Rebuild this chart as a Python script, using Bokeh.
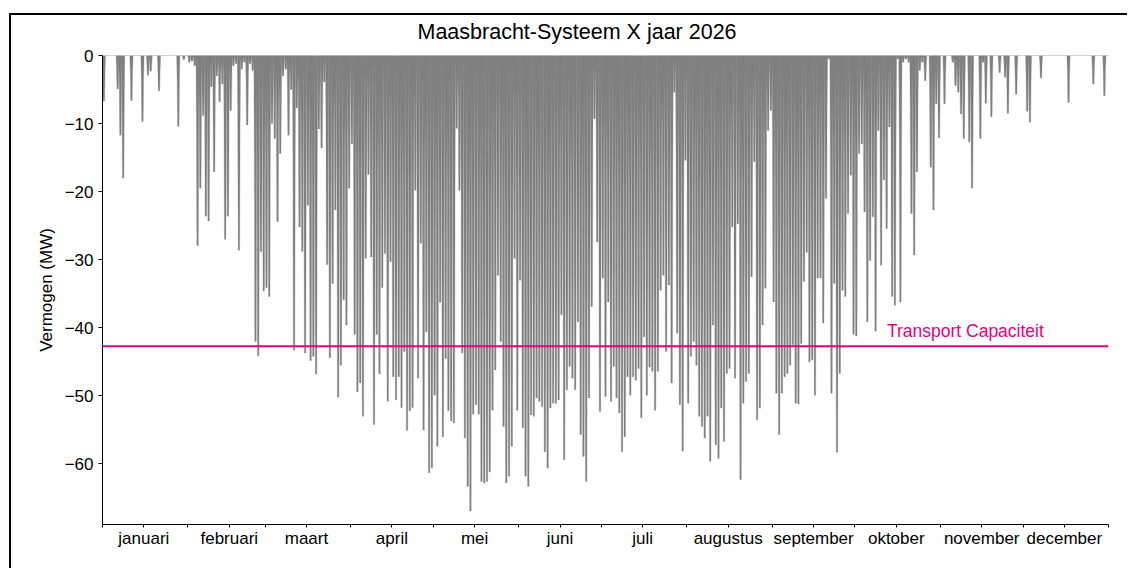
from bokeh.plotting import figure
from bokeh.models import FixedTicker, Span, Label, Range1d, Title
from bokeh.embed import file_html
from bokeh.resources import INLINE

# ---------------- data ----------------
title_text = "Maasbracht-Systeem X jaar 2026"
y_label = "Vermogen (MW)"
month_names = ["januari", "februari", "maart", "april", "mei", "juni", "juli",
               "augustus", "september", "oktober", "november", "december"]
month_lengths = [31, 28, 31, 30, 31, 30, 31, 31, 30, 31, 30, 31]

# daily peak feed-in (MW, negative = export), one value per day
jan = [-6.7, 0, 0, 0, 0, -4.9, -11.7, -18.0, 0, 0, -6.6, 0, 0, 0, -9.7, 0, -2.9, -2.3,
       0, 0, -5.2, 0, 0, 0, 0, 0, 0, -10.4, 0, -0.6, 0]
feb = [-1.0, -0.8, -1.5, -27.9, -19.5, -8.8, -23.6, -24.3, -4.6, -17.1, -3.0, -6.8, -4.2,
       -27.0, -23.6, -8.1, -1.5, -1.2, -28.6, -2.0, -1.0, -10.2, -1.2, -2.2, -42.0, -44.1,
       -28.8, -34.6]
mar = [-34.1, -35.4, -10.0, -12.2, -24.4, -14.4, -3.0, -2.0, -11.7, -5.0, -43.3, -7.7,
       -25.2, -28.8, -43.7, -22.0, -44.8, -44.2, -46.8, -10.8, -13.6, -3.9, -30.7, -44.4,
       -33.5, -22.7, -50.2, -45.5, -35.9, -39.6, -19.5]
apr = [-13.0, -41.0, -49.4, -48.1, -53.0, -29.8, -17.5, -29.6, -54.2, -41.0, -46.8, -34.1,
       -29.1, -50.8, -30.3, -47.2, -50.6, -47.2, -51.7, -43.5, -55.1, -52.2, -51.7, -19.8,
       -47.4, -27.6, -55.0, -40.6, -61.3, -60.6]
may = [-49.9, -57.4, -36.3, -56.0, -44.5, -52.2, -53.7, -54.0, -10.7, -19.8, -43.7, -56.2,
       -63.3, -66.9, -52.7, -51.3, -52.7, -62.6, -62.8, -62.6, -61.2, -52.1, -46.2, -32.3,
       -42.0, -54.5, -62.8, -61.8, -57.4, -29.8, -52.1]
jun = [-33.0, -54.7, -61.8, -63.3, -52.8, -53.0, -50.3, -50.8, -51.6, -58.2, -60.6, -51.8,
       -51.1, -51.1, -50.6, -38.1, -59.4, -49.1, -45.7, -47.4, -49.1, -39.1, -55.7, -58.9,
       -62.6, -50.3, -36.9, -9.3, -27.4, -52.3]
jul = [-32.7, -50.1, -36.2, -50.8, -45.7, -50.3, -52.5, -58.2, -56.0, -47.2, -49.9, -47.2,
       -47.7, -46.0, -53.2, -41.3, -49.9, -45.8, -46.4, -52.1, -46.4, -34.5, -32.3, -43.5,
       -33.7, -48.1, -5.4, -40.8, -51.3, -58.1, -15.4]
aug = [-51.1, -44.2, -42.0, -45.5, -53.0, -54.5, -56.2, -53.0, -59.6, -39.6, -57.2, -59.2,
       -51.8, -56.7, -46.7, -46.0, -25.2, -47.4, -24.7, -62.3, -51.1, -47.9, -46.7, -32.5,
       -15.6, -53.5, -51.8, -39.6, -34.2, -11.0, -8.1]
sep = [-36.2, -49.6, -55.7, -49.6, -47.2, -46.7, -45.5, -42.5, -51.1, -51.2, -42.3, -33.2,
       -28.9, -45.0, -44.7, -49.9, -32.7, -32.7, -39.3, -21.0, -0.5, -49.6, -33.5, -58.3,
       -46.7, -34.5, -35.4, -23.2, -17.6, -41.0]
okt = [-41.2, -14.4, -13.0, -23.0, -39.1, -30.1, -23.7, -40.5, -11.0, -30.8, -18.3, -25.4,
       -10.5, -35.4, -36.7, -0.5, -36.2, -1.0, -0.5, -1.0, -23.2, -29.3, -17.1, -2.2, -1.0,
       -3.7, 0, -16.4, -22.7, -7.1, -12.1]
nov = [0, -7.1, 0, 0, -1.0, -4.4, -5.4, -8.6, -12.2, 0, -12.7, -19.5, 0, 0, -12.2, -1.0,
       -7.0, 0, -9.0, 0, 0, -2.5, 0, -3.2, -8.5, 0, 0, -5.7, 0, 0]
dec = [0, -8.2, -9.8, 0, 0, 0, -3.3, 0, 0, 0, 0, 0, 0, 0, 0, 0, -6.9, 0, 0, 0, 0, 0, 0, 0,
       0, -4.2, 0, 0, 0, -5.9, 0]

y_ticks = [0, -10, -20, -30, -40, -50, -60]
y_tick_labels = ["0", "\u221210", "\u221220", "\u221230", "\u221240", "\u221250", "\u221260"]

transport_capacity = -42.7
transport_text = "Transport Capaciteit"

# ---------------- build ----------------
daily = jan + feb + mar + apr + may + jun + jul + aug + sep + okt + nov + dec
n_days = len(daily)

month_starts = []
acc = 0
for m in month_lengths:
    month_starts.append(acc)
    acc += m
month_mids = [s + 15 for s in month_starts]

FONT = "Liberation Sans"
GREY = "#808080"
PINK = "#E6007E"
Y_MIN = -68.9

W, H = 1118, 555
p = figure(width=W, height=H, output_backend="svg", toolbar_location=None, title=None,
           x_range=Range1d(0, n_days), y_range=Range1d(Y_MIN, 0),
           min_border_left=91, min_border_right=21, min_border_top=40,
           min_border_bottom=46)
p.margin = (13, 0, 0, 9)
p.styles = {"border-left": "2px solid black", "border-top": "2px solid black"}

# daily spikes, drawn from 0 down to the day's peak (wide near 0, narrow at the peak)
w_top, w_mid, w_bot, mid_frac = 0.6, 0.42, 0.27, 0.35
xs, ys = [], []
for i, v in enumerate(daily):
    if v < 0:
        c = i + 0.5
        xs.append([c - w_top, c + w_top, c + w_mid, c + w_bot, c - w_bot, c - w_mid])
        ys.append([0, 0, v * mid_frac, v, v, v * mid_frac])
p.patches(xs, ys, fill_color=GREY, line_color=GREY, line_width=0.3)

p.add_layout(Span(location=0, dimension="width", line_color="#a8a8a8", line_width=1.2))
p.add_layout(Span(location=transport_capacity, dimension="width",
                  line_color=PINK, line_width=2))
p.add_layout(Label(x=284.6, y=-40.47, text=transport_text, text_color=PINK,
                   text_font=FONT, text_font_size="17.5px", text_baseline="alphabetic",
                   text_align="left"))

# title: a thin blank spacer next to the frame, the real title above it
spacer = Title(text=" ", text_font_size="7.5px", standoff=0)
main_title = Title(text=title_text, text_font=FONT, text_font_size="21.5px",
                   text_font_style="normal", text_color="black", align="left",
                   offset=315, vertical_align="bottom", standoff=2)
p.add_layout(spacer, "above")
p.add_layout(main_title, "above")

# axes
p.xgrid.visible = False
p.ygrid.visible = False
p.outline_line_color = None

xa = p.xaxis[0]
xa.ticker = FixedTicker(ticks=month_mids, minor_ticks=month_starts + [n_days])
xa.major_label_overrides = {m: name for m, name in zip(month_mids, month_names)}
xa.major_tick_out = 3
xa.major_tick_in = 0
xa.minor_tick_out = 3
xa.minor_tick_in = 0
xa.major_label_text_font = FONT
xa.major_label_text_font_size = "17px"
xa.major_label_text_color = "black"
xa.major_label_standoff = 1
xa.axis_line_color = "black"
xa.major_tick_line_color = "black"
xa.minor_tick_line_color = "black"

ya = p.yaxis[0]
ya.ticker = FixedTicker(ticks=y_ticks, minor_ticks=[])
ya.major_label_overrides = {t: l for t, l in zip(y_ticks, y_tick_labels)}
ya.major_tick_out = 4
ya.major_tick_in = 0
ya.major_label_text_font = FONT
ya.major_label_text_font_size = "17px"
ya.major_label_text_color = "black"
ya.major_label_standoff = 5
ya.axis_label = y_label
ya.axis_label_text_font = FONT
ya.axis_label_text_font_size = "17px"
ya.axis_label_text_font_style = "normal"
ya.axis_label_text_color = "black"
ya.axis_label_standoff = 6
ya.axis_line_color = "black"
ya.major_tick_line_color = "black"

open("out.html", "w").write(file_html(p, INLINE))
